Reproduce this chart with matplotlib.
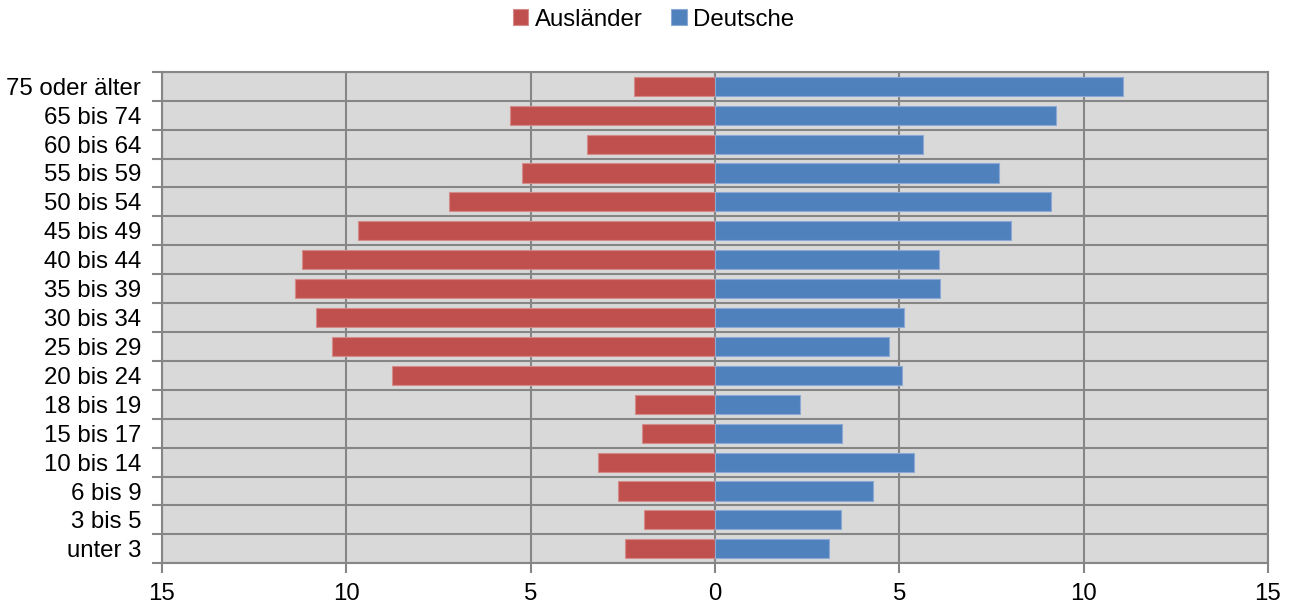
import matplotlib.pyplot as plt
import numpy as np

# Age groups, bottom to top
groups = ["unter 3", "3 bis 5", "6 bis 9", "10 bis 14", "15 bis 17", "18 bis 19",
          "20 bis 24", "25 bis 29", "30 bis 34", "35 bis 39", "40 bis 44",
          "45 bis 49", "50 bis 54", "55 bis 59", "60 bis 64", "65 bis 74",
          "75 oder älter"]

# Share in percent
auslaender = [2.45, 1.93, 2.63, 3.16, 1.99, 2.17, 8.75, 10.40, 10.82, 11.38,
              11.20, 9.67, 7.21, 5.23, 3.46, 5.56, 2.20]
deutsche = [3.09, 3.43, 4.29, 5.41, 3.44, 2.31, 5.07, 4.73, 5.13, 6.11,
            6.08, 8.02, 9.11, 7.71, 5.64, 9.25, 11.07]

xticks = [-15, -10, -5, 0, 5, 10, 15]

plt.rcParams['font.family'] = ['Liberation Sans', 'DejaVu Sans']

grid_col = '#868686'
red = '#C0504D'
blue = '#4F81BD'
fs = 17.3

fig = plt.figure(figsize=(12.99, 6.03), dpi=100)
ax = fig.add_axes([0.1247, 0.0658, 0.8514, 0.8152])
ax.set_facecolor('#D9D9D9')

y = np.arange(len(groups))
ax.barh(y, -np.array(auslaender), height=0.66, color=red, edgecolor='#D48C8A',
        linewidth=0.8, label='Ausländer', zorder=3)
ax.barh(y, deutsche, height=0.66, color=blue, edgecolor='#8BA9D4',
        linewidth=0.8, label='Deutsche', zorder=3)

ax.set_xlim(-15, 15)
ax.set_ylim(-0.5, len(groups) - 0.5)

# x axis
ax.set_xticks(xticks)
ax.set_xticklabels([str(abs(v)) for v in xticks])
ax.tick_params(axis='x', length=7, width=1.5, color=grid_col, pad=7,
               labelsize=fs, labelcolor='black')
ax.xaxis.grid(True, color=grid_col, linewidth=1.5, zorder=1)

# y axis: labels at centres, ticks and grid at boundaries
ax.set_yticks(y)
ax.set_yticklabels(groups)
ax.set_yticks(np.arange(len(groups) + 1) - 0.5, minor=True)
ax.tick_params(axis='y', which='major', length=0, pad=15, labelsize=fs,
               labelcolor='black')
ax.tick_params(axis='y', which='minor', length=7, width=1.5, color=grid_col)
ax.yaxis.grid(True, which='minor', color=grid_col, linewidth=1.5, zorder=1)
ax.set_axisbelow(True)

for s in ax.spines.values():
    s.set_color(grid_col)
    s.set_linewidth(1.5)

ax.legend(loc='center', bbox_to_anchor=(0.503, 0.967),
          bbox_transform=fig.transFigure, ncol=2, frameon=False,
          fontsize=fs, handlelength=0.65, handleheight=0.65,
          handletextpad=0.25, columnspacing=1.2)

plt.savefig('out.png', dpi=100)
